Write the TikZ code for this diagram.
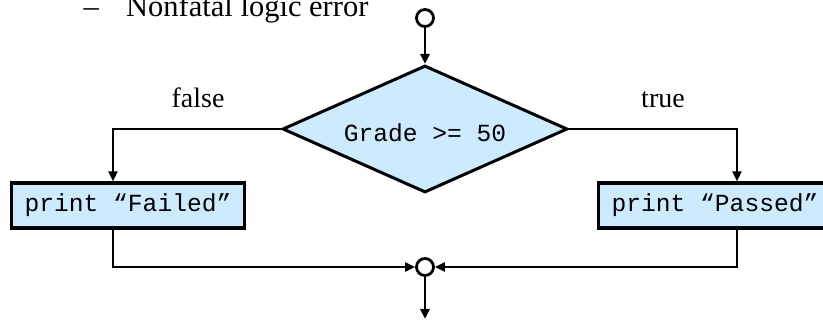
\documentclass[tikz,border=0pt]{standalone}
\usepackage{fontspec}
\setmainfont{Liberation Serif}
\setmonofont{Liberation Mono}
\usepackage{xcolor}
\usetikzlibrary{arrows.meta,shapes,positioning}
\definecolor{boxblue}{RGB}{204,235,255}

\begin{document}
\begin{tikzpicture}[
    x=1pt, y=1pt,
    decision/.style={draw, diamond, aspect=2.24, inner sep=0pt, minimum width=285pt, minimum height=127pt, fill=boxblue, line width=3pt, text height=26pt, text depth=0pt, font=\fontsize{24.6pt}{28pt}\ttfamily},
    block/.style={draw, rectangle, minimum width=233pt, minimum height=45pt, fill=boxblue, line width=3.2pt, font=\fontsize{24.6pt}{28pt}\ttfamily},
    dot/.style={draw, circle, minimum size=17pt, inner sep=0pt, line width=2.8pt, fill=white},
    lbl/.style={anchor=base, font=\fontsize{28pt}{32pt}\selectfont},
    arrow/.style={-{Triangle[length=10pt,width=9pt]}, line width=2.8pt},
]
    \useasboundingbox (0,0) rectangle (823,-320);

    \node [anchor=base west, font=\fontsize{30.5pt}{34pt}\selectfont] (dash) at (80,-17) {–};
    \node [anchor=base west, inner sep=0pt, font=\fontsize{30.5pt}{34pt}\selectfont] (item) at (126,-17) {Nonfatal logic error};

    \node [dot] (start) at (425,-18) {};
    \node [decision] (grade) at (425,-129) {Grade >= 50};
    \node [block] (fail) at (128,-205.5) {print “Failed”};
    \node [block] (pass) at (715,-205.5) {print “Passed”};
    \node [dot] (join) at (425,-267) {};

    \coordinate (lbend) at (113,-129);
    \coordinate (rbend) at (737,-129);
    \coordinate (out) at (425,-319);

    \node [lbl] (nolbl) at (198,-108) {false};
    \node [lbl] (yeslbl) at (663,-108) {true};

    \draw [arrow] (start) -- (grade);
    \draw [arrow] (grade.west) -- (lbend) -- (lbend |- fail.north);
    \draw [arrow] (grade.east) -- (rbend) -- (rbend |- pass.north);
    \draw [arrow] (lbend |- fail.south) |- (join);
    \draw [arrow] (rbend |- pass.south) |- (join);
    \draw [arrow] (join) -- (out);

\end{tikzpicture}
\end{document}
